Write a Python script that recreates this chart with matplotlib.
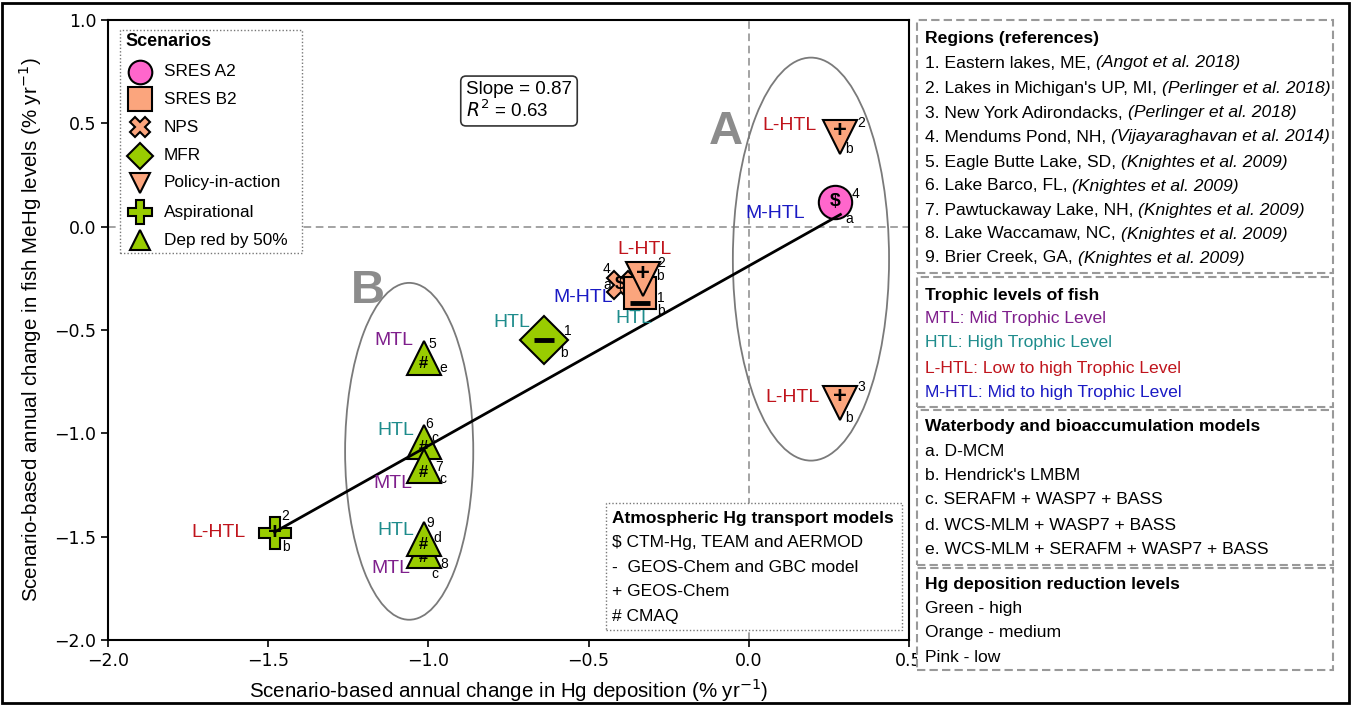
import matplotlib
matplotlib.use("Agg")
import matplotlib.pyplot as plt
from matplotlib.patches import Ellipse, Rectangle
from matplotlib.lines import Line2D

# ---------------- data ----------------
scenario = ['NPS', 'SRES B2', 'Policy-in-action', 'MFR', 'SRES A2',
            'Policy-in-action', 'Policy-in-action', 'Aspirational',
            'Dep red by 50%', 'Dep red by 50%', 'Dep red by 50%',
            'Dep red by 50%', 'Dep red by 50%']
dep_change = [-0.40, -0.34, -0.33, -0.64, 0.27, 0.286, 0.286, -1.48,
              -1.015, -1.015, -1.015, -1.015, -1.015]
mehg_change = [-0.28, -0.32, -0.254, -0.55, 0.12, 0.435, -0.853, -1.48,
               -0.635, -1.04, -1.16, -1.57, -1.51]
region_id = ['4', '1', '2', '1', '4', '2', '3', '2', '5', '6', '7', '8', '9']
model_id = ['a', 'b', 'b', 'b', 'a', 'b', 'b', 'b', 'e', 'c', 'c', 'c', 'd']
trophic = ['M-HTL', 'HTL', 'L-HTL', 'HTL', 'M-HTL', 'L-HTL', 'L-HTL', 'L-HTL',
           'MTL', 'HTL', 'MTL', 'MTL', 'HTL']
atm_model = ['$', '-', '+', '-', '$', '+', '+', '+', '#', '#', '#', '#', '#']

slope = 0.87
intercept = -0.19
r_squared = 0.63

scenario_names = ['SRES A2', 'SRES B2', 'NPS', 'MFR', 'Policy-in-action',
                  'Aspirational', 'Dep red by 50%']

regions_title = 'Regions (references)'
regions_plain = ['1. Eastern lakes, ME, ', "2. Lakes in Michigan's UP, MI, ",
                 '3. New York Adirondacks, ', '4. Mendums Pond, NH, ',
                 '5. Eagle Butte Lake, SD, ', '6. Lake Barco, FL, ',
                 '7. Pawtuckaway Lake, NH, ', '8. Lake Waccamaw, NC, ',
                 '9. Brier Creek, GA, ']
regions_refs = ['(Angot et al. 2018)', '(Perlinger et al. 2018)',
                '(Perlinger et al. 2018)', '(Vijayaraghavan et al. 2014)',
                '(Knightes et al. 2009)', '(Knightes et al. 2009)',
                '(Knightes et al. 2009)', '(Knightes et al. 2009)',
                '(Knightes et al. 2009)']
trophic_title = 'Trophic levels of fish'
trophic_lines = ['MTL: Mid Trophic Level', 'HTL: High Trophic Level',
                 'L-HTL: Low to high Trophic Level', 'M-HTL: Mid to high Trophic Level']
trophic_keys = ['MTL', 'HTL', 'L-HTL', 'M-HTL']
water_title = 'Waterbody and bioaccumulation models'
water_lines = ['a. D-MCM', "b. Hendrick's LMBM", 'c. SERAFM + WASP7 + BASS',
               'd. WCS-MLM + WASP7 + BASS', 'e. WCS-MLM + SERAFM + WASP7 + BASS']
hg_title = 'Hg deposition reduction levels'
hg_lines = ['Green - high', 'Orange - medium', 'Pink - low']
atm_title = 'Atmospheric Hg transport models'
atm_lines = ['$ CTM-Hg, TEAM and AERMOD', '-  GEOS-Chem and GBC model',
             '+ GEOS-Chem', '# CMAQ']

# ---------------- styles ----------------
PINK = '#FF66CC'
SALMON = '#FBA57D'
GREEN = '#99CC00'
style = {
    'SRES A2': ('o', PINK, 24, 17),
    'SRES B2': ('s', SALMON, 23, 17),
    'NPS': ('X', SALMON, 20, 15),
    'MFR': ('D', GREEN, 24, 13),
    'Policy-in-action': ('v', SALMON, 24, 15),
    'Aspirational': ('P', GREEN, 23, 17),
    'Dep red by 50%': ('^', GREEN, 24, 15),
}
tcolor = {'MTL': '#7F1F8C', 'HTL': '#1E8C8C', 'L-HTL': '#C0141C', 'M-HTL': '#1A1AC4'}

# layout (offsets in pixels): trophic label, number, letter, inner symbol
lab_off = [(-8, -13, 'right'), (-6, -26, 'center'), (1, 30, 'center'),
           (-13, 18, 'right'), (-30, -12, 'right'), (-24, 11, 'right'),
           (-21, 5, 'right'), (-29, 0, 'right'), (-10.5, 17.5, 'right'),
           (-9.5, 11, 'right'), (-11.5, -17, 'right'), (-13.5, -17, 'right'),
           (-9.5, 8.6, 'right')]
num_off = [(-14, 16), (21, -5), (18, 16.5), (24, 9), (20, 8), (20.5, 14),
           (20.5, 15.5), (11, 17), (8.5, 13.5), (5.5, 18), (15.5, -1),
           (20.5, -13), (6.5, 15.6)]
let_off = [(-13, 0), (21, -18), (17, 3.5), (20, -13), (14, -17), (8.5, -12),
           (8.5, -15.5), (11, -14), (19.5, -10.5), (11.5, 4), (19.5, -13),
           (11.5, -23), (13.5, 0.6)]
inner_dy = [0, -10, 6, 0, 0, 6, 6, 0, -6, -6, -6, -6, -6]

W, H = 1352, 705
SANS = ['Liberation Sans', 'DejaVu Sans']
plt.rcParams['font.family'] = SANS
FS = 12.6

fig = plt.figure(figsize=(W / 100, H / 100), dpi=100)
ax = fig.add_axes([108 / W, 1 - 640 / H, (909 - 108) / W, (640 - 20) / H])
ax.set_xlim(-2.0, 0.5)
ax.set_ylim(-2.0, 1.0)
ax.set_xticks([-2.0, -1.5, -1.0, -0.5, 0.0, 0.5])
ax.set_yticks([-2.0, -1.5, -1.0, -0.5, 0.0, 0.5, 1.0])
ax.tick_params(labelsize=12.5, length=5, width=1.2)
for lab in ax.get_xticklabels() + ax.get_yticklabels():
    lab.set_fontfamily('DejaVu Sans')
for sp in ax.spines.values():
    sp.set_linewidth(1.5)
ax.set_xlabel('Scenario-based annual change in Hg deposition (% yr$^{-1}$)',
              fontsize=14.8, labelpad=5)
ax.set_ylabel('Scenario-based annual change in fish MeHg levels (% yr$^{-1}$)',
              fontsize=14.8, labelpad=7)

ax.axhline(0, color='#8a8a8a', lw=1.1, ls=(0, (5, 3)), zorder=1)
ax.axvline(0, color='#8a8a8a', lw=1.1, ls=(0, (5, 3)), zorder=1)

ax.add_patch(Ellipse((0.194, -0.157), 0.4875, 1.95, fill=False, ec='#7a7a7a', lw=1.3, zorder=1))
ax.add_patch(Ellipse((-1.06, -1.087), 0.40, 1.63, fill=False, ec='#7a7a7a', lw=1.3, zorder=1))
ax.text(-0.07, 0.46, 'A', fontsize=34, fontweight='bold', color='#8c8c8c', ha='center', va='center')
ax.text(-1.19, -0.31, 'B', fontsize=34, fontweight='bold', color='#8c8c8c', ha='center', va='center')

# regression line
x0, x1 = min(dep_change), max(dep_change)
ax.plot([x0, x1], [slope * x0 + intercept, slope * x1 + intercept], color='black', lw=2, zorder=4)

for i, sc in enumerate(scenario):
    m, c, ms, _ = style[sc]
    z = 3 + i * 0.01
    ax.plot(dep_change[i], mehg_change[i], marker=m, ms=ms, mfc=c, mec='black',
            mew=1.5, ls='none', zorder=z)
    sym = atm_model[i]
    if sym == '-':
        ax.plot(dep_change[i], mehg_change[i], marker='_', ms=14, mew=3.5,
                color='black', ls='none', zorder=z + 0.005,
                transform=ax.transData + matplotlib.transforms.ScaledTranslation(
                    0, inner_dy[i] / 100, fig.dpi_scale_trans))
    else:
        fs = {'$': 14, '+': 17, '#': 12}[sym]
        ax.annotate(sym, (dep_change[i], mehg_change[i]), xytext=(0, inner_dy[i]),
                    textcoords='offset pixels', ha='center', va='center',
                    fontsize=fs, fontweight='bold', zorder=z + 0.005)
    dx, dy, ha = lab_off[i]
    ax.annotate(trophic[i], (dep_change[i], mehg_change[i]), xytext=(dx, dy),
                textcoords='offset pixels', ha=ha, va='center', fontsize=14,
                color=tcolor[trophic[i]], zorder=5)
    ax.annotate(region_id[i], (dep_change[i], mehg_change[i]), xytext=num_off[i],
                textcoords='offset pixels', ha='center', va='center', fontsize=10, zorder=5)
    ax.annotate(model_id[i], (dep_change[i], mehg_change[i]), xytext=let_off[i],
                textcoords='offset pixels', ha='center', va='center', fontsize=10, zorder=5)

# slope box
ax.text((466 - 108) / (909 - 108), (640 - 101) / (640 - 20),
        'Slope = %.2f\n$R^2$ = %.2f' % (slope, r_squared), transform=ax.transAxes,
        fontsize=13.5, ha='left', va='center', linespacing=1.05,
        bbox=dict(boxstyle='round,pad=0.28', fc='white', ec='#333333', lw=1.2))


def px(x, y):
    return x / W, 1 - y / H


def box(x0, y0, x1, y1, ls, ec, lw=1.3):
    fig.patches.append(Rectangle(px(x0, y1), (x1 - x0) / W, (y1 - y0) / H,
                                 transform=fig.transFigure, fill=True, fc='white',
                                 ec=ec, lw=lw, ls=ls, zorder=6))


def ftext(x, y, s, **kw):
    kw.setdefault('fontsize', FS)
    return fig.text(*px(x, y), s, ha='left', va='center', zorder=7, **kw)


# scenarios legend
box(120, 30, 302, 253, (0, (1, 1.5)), '#777777', 1.0)
ftext(125, 42, 'Scenarios', fontweight='bold', fontsize=13)
leg_y = [72, 99, 127, 156, 183, 212, 240]
for name, yy in zip(scenario_names, leg_y):
    m, c, _, lms = style[name]
    fig.lines.append(Line2D([140 / W], [1 - yy / H], transform=fig.transFigure,
                            marker=m, ms=lms, mfc=c, mec='black', mew=1.5, ls='none', zorder=8))
    ftext(164, yy, name, fontsize=12.4)

# atmospheric box
box(606, 503, 902, 630, (0, (1, 1.5)), '#777777', 1.0)
ftext(612, 518, atm_title, fontweight='bold', fontsize=12.5)
for s, yy in zip(atm_lines, [543, 567, 592, 617]):
    ftext(612, yy, s, fontsize=12.5)

# right panel
dash = (0, (4, 2))
box(917, 20, 1333, 273, dash, '#999999', 1.5)
box(917, 277, 1333, 407, dash, '#999999', 1.5)
box(917, 410, 1333, 565, dash, '#999999', 1.5)
box(917, 568, 1333, 670, dash, '#999999', 1.5)

fig.canvas.draw()
renderer = fig.canvas.get_renderer()
TX = 925
ftext(TX, 38, regions_title, fontweight='bold')
ry = [63, 88, 113, 137, 162, 186, 210, 234, 258]
for a, b, yy in zip(regions_plain, regions_refs, ry):
    t = ftext(TX, yy, a)
    bb = t.get_window_extent(renderer)
    fig.text(bb.x1 / W, 1 - yy / H, b, ha='left', va='center', fontsize=FS,
             style='italic', zorder=7)
ftext(TX, 295, trophic_title, fontweight='bold')
for s, k, yy in zip(trophic_lines, trophic_keys, [319, 343, 368, 393]):
    ftext(TX, yy, s, color=tcolor[k])
ftext(TX, 427, water_title, fontweight='bold')
for s, yy in zip(water_lines, [452, 476, 500, 525, 549]):
    ftext(TX, yy, s)
ftext(TX, 585, hg_title, fontweight='bold')
for s, yy in zip(hg_lines, [609, 633, 658]):
    ftext(TX, yy, s)

# outer frame
fig.patches.append(Rectangle((2 / W, 2 / H), (W - 5) / W, (H - 5) / H, transform=fig.transFigure,
                             fill=False, ec='black', lw=2, zorder=10))

fig.savefig('out.png', dpi=100)
